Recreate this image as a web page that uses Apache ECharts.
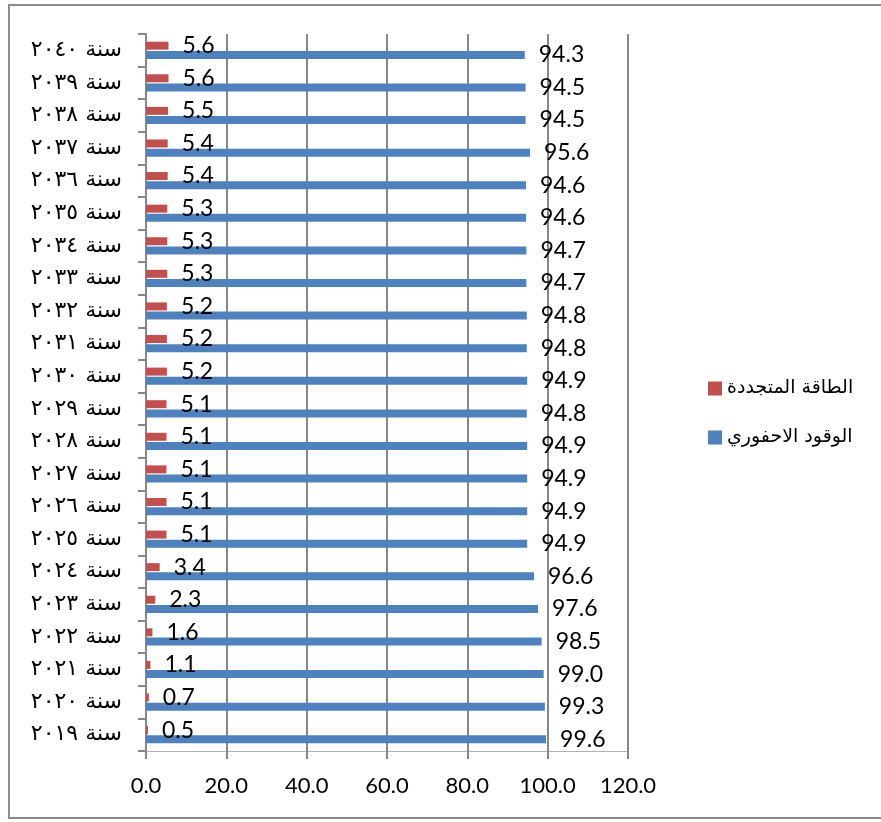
<!DOCTYPE html>
<html>
<head>
<meta charset="utf-8">
<script src="https://cdn.jsdelivr.net/npm/echarts@6/dist/echarts.min.js"></script>
<style>
 html,body{margin:0;padding:0;background:#fff;}
 #main{width:881px;height:822px;}
</style>
</head>
<body>
<div id="main"></div>
<script>
var years = ["سنة ٢٠١٩","سنة ٢٠٢٠","سنة ٢٠٢١","سنة ٢٠٢٢","سنة ٢٠٢٣","سنة ٢٠٢٤","سنة ٢٠٢٥","سنة ٢٠٢٦","سنة ٢٠٢٧","سنة ٢٠٢٨","سنة ٢٠٢٩",
 "سنة ٢٠٣٠","سنة ٢٠٣١","سنة ٢٠٣٢","سنة ٢٠٣٣","سنة ٢٠٣٤","سنة ٢٠٣٥","سنة ٢٠٣٦","سنة ٢٠٣٧","سنة ٢٠٣٨","سنة ٢٠٣٩","سنة ٢٠٤٠"];
var renewable = [0.5,0.7,1.1,1.6,2.3,3.4,5.1,5.1,5.1,5.1,5.1,5.2,5.2,5.2,5.3,5.3,5.3,5.4,5.4,5.5,5.6,5.6];
var fossil = [99.6,99.3,99.0,98.5,97.6,96.6,94.9,94.9,94.9,94.9,94.8,94.9,94.8,94.8,94.7,94.7,94.6,94.6,95.6,94.5,94.5,94.3];
var names = ["الطاقة المتجددة","الوقود الاحفوري"];
var xMin = 0, xMax = 120, xStep = 20;

var numFont = "Lato";
var gridCol = "#878787";

function lbl(){
 return {
  show:true,
  position:"right",
  distance:14,
  color:"#000",
  fontFamily:numFont,
  fontSize:23,
  formatter:function(p){return p.value.toFixed(1);}
 };
}

var chart = echarts.init(document.getElementById("main"));

var option = {
 animation:false,
 graphic:[{
  type:"rect",
  z:-10,
  shape:{x:9,y:5,width:900,height:813},
  style:{fill:"none",stroke:"#8c8c8c",lineWidth:2}
 }],
 legend:{
  orient:"vertical",
  left:703,
  top:374,
  icon:"rect",
  itemWidth:14,
  itemHeight:14,
  itemGap:30,
  textStyle:{fontFamily:"DejaVu Sans",fontSize:19,color:"#000"},
  data:names
 },
 grid:{left:146,right:253,top:34,bottom:71},
 xAxis:{
  type:"value",
  min:xMin,max:xMax,interval:xStep,
  axisLine:{show:true,lineStyle:{color:"#b0b0b0",width:1}},
  axisTick:{show:true,length:8,lineStyle:{color:gridCol,width:2}},
  splitLine:{show:true,lineStyle:{color:gridCol,width:2}},
  axisLabel:{margin:24,color:"#000",fontFamily:numFont,fontSize:22,
   formatter:function(v){return v.toFixed(1);}}
 },
 yAxis:{
  type:"category",
  data:years,
  axisLine:{show:true,lineStyle:{color:gridCol,width:2}},
  axisTick:{show:true,length:8,lineStyle:{color:gridCol,width:2}},
  axisLabel:{margin:24,color:"#000",fontFamily:"DejaVu Sans",fontSize:22}
 },
 series:[
  {name:names[0],type:"bar",data:renewable,barWidth:8,barGap:"15%",
   itemStyle:{color:"#C0504D"},label:lbl()},
  {name:names[1],type:"bar",data:fossil,barWidth:8,barGap:"15%",
   itemStyle:{color:"#4F81BD"},label:lbl()}
 ]
};
chart.setOption(option);
</script>
</body>
</html>
